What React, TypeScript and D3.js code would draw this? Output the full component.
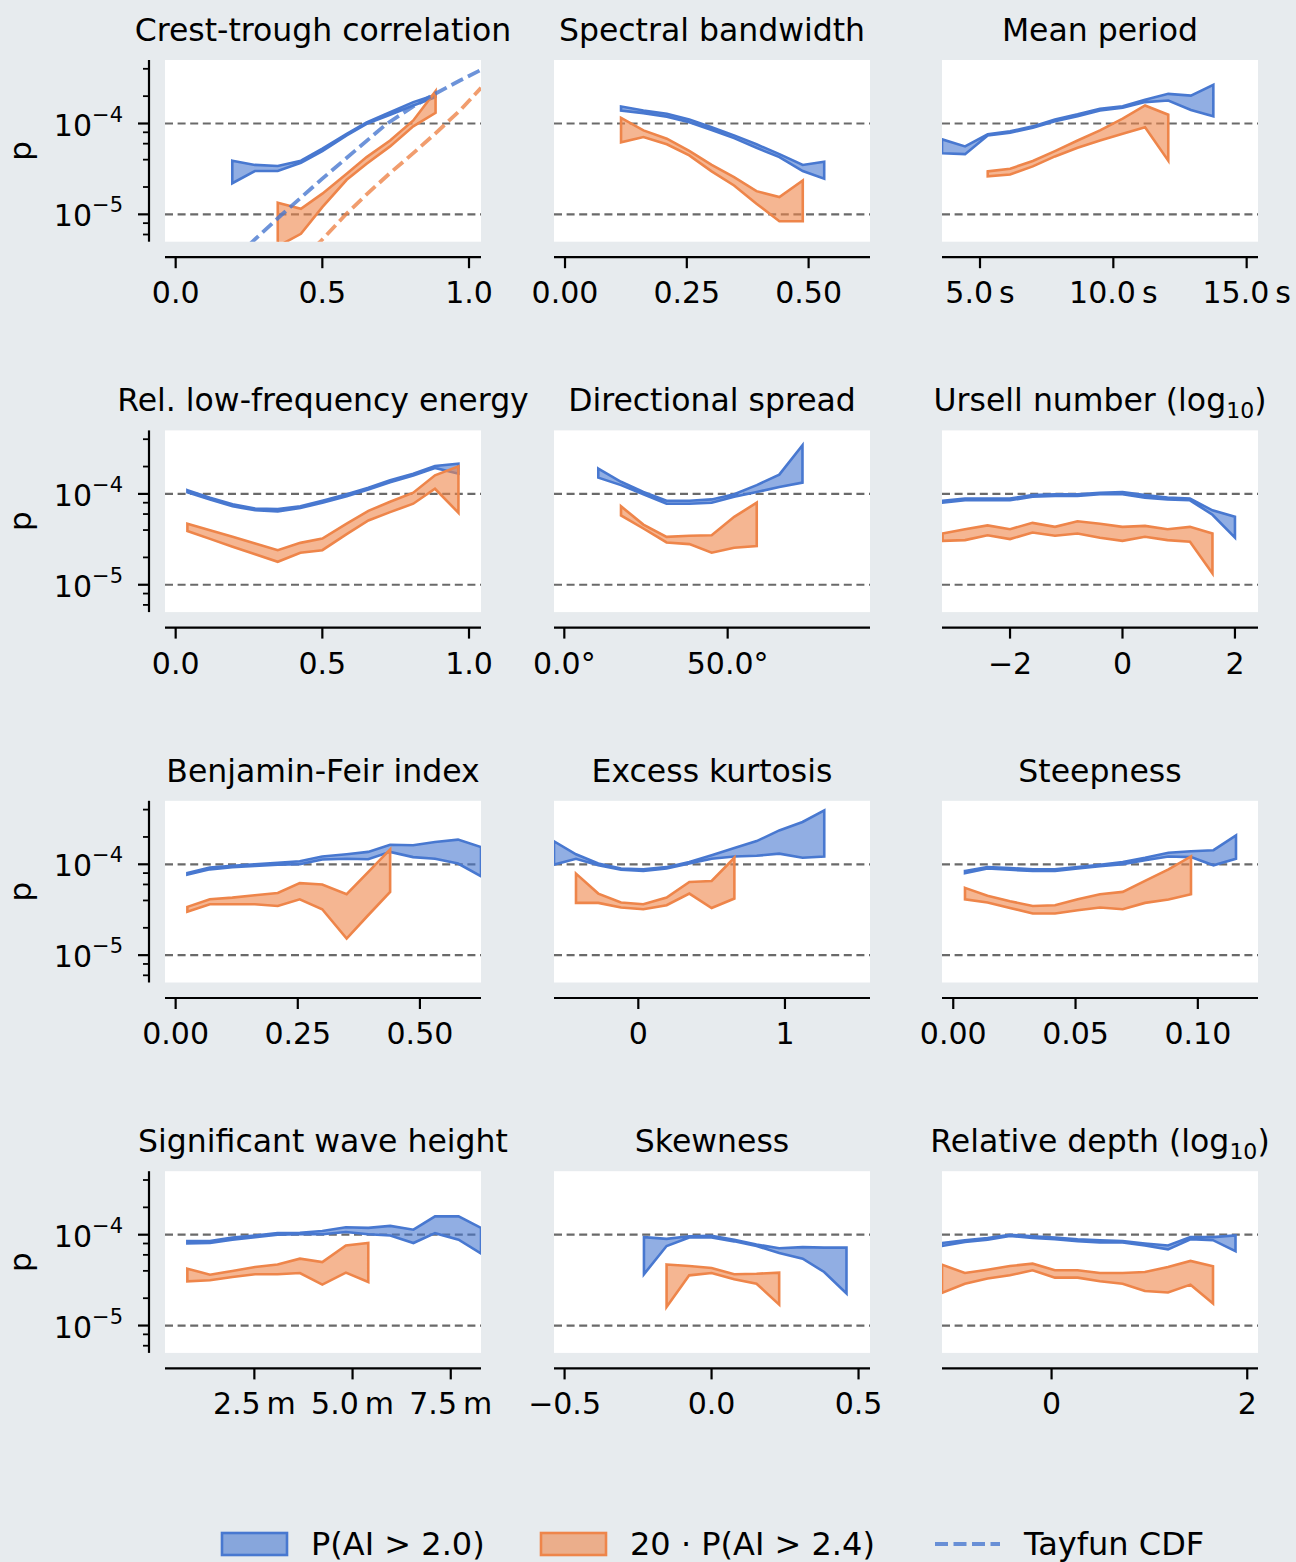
import React from 'react';
import * as d3 from 'd3';

// ---------- data (p values) ----------
// 1. Crest-trough correlation
const crestX = [0.193, 0.27, 0.348, 0.427, 0.5, 0.583, 0.651, 0.731, 0.81, 0.886];
const crestBlueHi = [3.9e-5, 3.5e-5, 3.4e-5, 3.9e-5, 5.3e-5, 7.7e-5, 1.03e-4, 1.33e-4, 1.72e-4, 2.07e-4];
const crestBlueLo = [2.2e-5, 3.0e-5, 3.0e-5, 3.7e-5, 4.97e-5, 7.4e-5, 9.9e-5, 1.25e-4, 1.58e-4, 1.95e-4];
const crestOrangeX = [0.348, 0.427, 0.5, 0.583, 0.651, 0.731, 0.81, 0.886];
const crestOrangeHi = [1.34e-5, 1.15e-5, 1.69e-5, 2.8e-5, 4.27e-5, 6.5e-5, 1.08e-4, 2.27e-4];
const crestOrangeLo = [4.45e-6, 6.1e-6, 1.2e-5, 2.4e-5, 3.6e-5, 5.6e-5, 9.3e-5, 1.31e-4];
const tayfunBlueX = [0.25, 0.27, 0.361, 0.5, 0.606, 0.719, 0.81, 0.884, 0.969, 1.041];
const tayfunBlueP = [4.6e-6, 5.3e-6, 9.9e-6, 2.47e-5, 4.84e-5, 9.9e-5, 1.54e-4, 2.12e-4, 2.97e-4, 3.89e-4];
const tayfunOrangeX = [0.47, 0.492, 0.583, 0.651, 0.731, 0.81, 0.884, 0.969, 1.041];
const tayfunOrangeP = [4.3e-6, 4.97e-6, 1.02e-5, 1.66e-5, 2.85e-5, 4.72e-5, 7.7e-5, 1.39e-4, 2.47e-4];

// 2. Spectral bandwidth
const bwX = [0.115, 0.161, 0.209, 0.255, 0.301, 0.347, 0.393, 0.44, 0.488, 0.532];
const bwBlueHi = [1.54e-4, 1.39e-4, 1.28e-4, 1.11e-4, 9.1e-5, 7.4e-5, 5.9e-5, 4.6e-5, 3.5e-5, 3.8e-5];
const bwBlueLo = [1.39e-4, 1.3e-4, 1.19e-4, 1.03e-4, 8.5e-5, 6.9e-5, 5.4e-5, 4.27e-5, 3.0e-5, 2.47e-5];
const bwOrangeX = [0.115, 0.161, 0.209, 0.255, 0.301, 0.347, 0.393, 0.44, 0.488];
const bwOrangeHi = [1.15e-4, 8.4e-5, 6.8e-5, 5.0e-5, 3.5e-5, 2.57e-5, 1.8e-5, 1.55e-5, 2.36e-5];
const bwOrangeLo = [6.2e-5, 7.1e-5, 5.9e-5, 4.45e-5, 2.97e-5, 2.08e-5, 1.31e-5, 8.4e-6, 8.4e-6];

// 3. Mean period (s)
const periodX = [3.575, 4.44, 5.29, 6.13, 6.98, 7.81, 8.66, 9.5, 10.35, 11.19, 12.06, 12.91, 13.75];
const periodBlueHi = [6.7e-5, 5.6e-5, 7.6e-5, 8.2e-5, 9.3e-5, 1.11e-4, 1.26e-4, 1.45e-4, 1.55e-4, 1.82e-4, 2.12e-4, 2.03e-4, 2.66e-4];
const periodBlueLo = [4.7e-5, 4.6e-5, 7.4e-5, 7.9e-5, 9.0e-5, 1.06e-4, 1.2e-4, 1.39e-4, 1.49e-4, 1.72e-4, 1.79e-4, 1.41e-4, 1.2e-4];
const periodOrangeX = [5.29, 6.13, 6.98, 7.81, 8.66, 9.5, 10.35, 11.19, 12.06];
const periodOrangeHi = [2.97e-5, 3.18e-5, 3.86e-5, 4.97e-5, 6.5e-5, 8.4e-5, 1.13e-4, 1.58e-4, 1.25e-4];
const periodOrangeLo = [2.62e-5, 2.75e-5, 3.37e-5, 4.34e-5, 5.4e-5, 6.5e-5, 7.7e-5, 9.1e-5, 3.9e-5];

// 4. Rel. low-frequency energy
const lfX = [0.04, 0.117, 0.194, 0.271, 0.348, 0.425, 0.5, 0.583, 0.657, 0.731, 0.81, 0.884, 0.964];
const lfBlueHi = [1.1e-4, 9.1e-5, 7.7e-5, 6.9e-5, 6.8e-5, 7.3e-5, 8.4e-5, 9.9e-5, 1.17e-4, 1.41e-4, 1.67e-4, 2.03e-4, 2.15e-4];
const lfBlueLo = [1.04e-4, 8.7e-5, 7.3e-5, 6.6e-5, 6.4e-5, 7.0e-5, 8.0e-5, 9.4e-5, 1.12e-4, 1.34e-4, 1.59e-4, 1.93e-4, 1.67e-4];
const lfOrangeHi = [4.7e-5, 3.99e-5, 3.37e-5, 2.85e-5, 2.4e-5, 2.89e-5, 3.23e-5, 4.7e-5, 6.5e-5, 8.2e-5, 1.03e-4, 1.6e-4, 2.01e-4];
const lfOrangeLo = [3.9e-5, 3.2e-5, 2.62e-5, 2.17e-5, 1.79e-5, 2.25e-5, 2.4e-5, 3.6e-5, 5.1e-5, 6.3e-5, 7.8e-5, 1.14e-4, 6.2e-5];

// 5. Directional spread (deg)
const dirX = [10.4, 17.35, 24.2, 31.3, 38.3, 45.1, 52.0, 58.9, 65.8, 72.9];
const dirBlueHi = [1.9e-4, 1.36e-4, 1.05e-4, 8.4e-5, 8.4e-5, 8.7e-5, 9.9e-5, 1.25e-4, 1.63e-4, 3.43e-4];
const dirBlueLo = [1.51e-4, 1.25e-4, 9.9e-5, 7.8e-5, 7.8e-5, 8.0e-5, 9.3e-5, 1.05e-4, 1.19e-4, 1.33e-4];
const dirOrangeX = [17.35, 24.2, 31.3, 38.3, 45.1, 52.0, 58.9];
const dirOrangeHi = [7.3e-5, 4.6e-5, 3.37e-5, 3.46e-5, 3.51e-5, 5.6e-5, 8.0e-5];
const dirOrangeLo = [5.8e-5, 4.16e-5, 2.92e-5, 2.8e-5, 2.25e-5, 2.55e-5, 2.66e-5];

// 6. Ursell number (log10)
const ursellX = [-3.2, -2.8, -2.4, -2.0, -1.6, -1.2, -0.8, -0.4, 0, 0.4, 0.8, 1.2, 1.6, 2.0];
const ursellBlueHi = [8.4e-5, 8.9e-5, 8.9e-5, 8.9e-5, 9.7e-5, 9.9e-5, 9.9e-5, 1.03e-4, 1.05e-4, 9.7e-5, 9.1e-5, 8.9e-5, 6.6e-5, 5.6e-5];
const ursellBlueLo = [8.0e-5, 8.5e-5, 8.5e-5, 8.5e-5, 9.3e-5, 9.5e-5, 9.5e-5, 9.9e-5, 9.9e-5, 9.1e-5, 8.7e-5, 8.5e-5, 5.9e-5, 3.3e-5];
const ursellOrangeX = [-3.2, -2.8, -2.4, -2.0, -1.6, -1.2, -0.8, -0.4, 0, 0.4, 0.8, 1.2, 1.6];
const ursellOrangeHi = [3.67e-5, 4.09e-5, 4.5e-5, 4.09e-5, 4.8e-5, 4.34e-5, 5.0e-5, 4.7e-5, 4.34e-5, 4.45e-5, 4.09e-5, 4.34e-5, 3.67e-5];
const ursellOrangeLo = [3.04e-5, 3.1e-5, 3.51e-5, 3.18e-5, 3.76e-5, 3.46e-5, 3.67e-5, 3.29e-5, 3.04e-5, 3.37e-5, 3.1e-5, 2.97e-5, 1.33e-5];

// 7. Benjamin-Feir index
const bfiX = [0.024, 0.07, 0.116, 0.162, 0.209, 0.254, 0.3, 0.35, 0.394, 0.439, 0.486, 0.531, 0.578, 0.625];
const bfiBlueHi = [8.0e-5, 9.2e-5, 9.6e-5, 1.0e-4, 1.04e-4, 1.08e-4, 1.22e-4, 1.29e-4, 1.37e-4, 1.64e-4, 1.62e-4, 1.76e-4, 1.87e-4, 1.55e-4];
const bfiBlueLo = [7.7e-5, 8.8e-5, 9.3e-5, 9.6e-5, 9.9e-5, 1.0e-4, 1.13e-4, 1.15e-4, 1.135e-4, 1.37e-4, 1.2e-4, 1.15e-4, 1.02e-4, 7.4e-5];
const bfiOrangeX = [0.024, 0.07, 0.116, 0.162, 0.209, 0.254, 0.3, 0.35, 0.394, 0.439];
const bfiOrangeHi = [3.4e-5, 4.12e-5, 4.3e-5, 4.56e-5, 4.84e-5, 6.2e-5, 6.0e-5, 4.68e-5, 8.2e-5, 1.46e-4];
const bfiOrangeLo = [3.0e-5, 3.63e-5, 3.63e-5, 3.63e-5, 3.48e-5, 4.12e-5, 3.2e-5, 1.52e-5, 2.75e-5, 4.97e-5];

// 8. Excess kurtosis
const kurtX = [-0.575, -0.425, -0.273, -0.118, 0.034, 0.193, 0.348, 0.5, 0.655, 0.807, 0.961, 1.12, 1.268];
const kurtBlueHi = [1.79e-4, 1.29e-4, 1.02e-4, 9.0e-5, 8.8e-5, 9.3e-5, 1.06e-4, 1.26e-4, 1.51e-4, 1.8e-4, 2.36e-4, 2.92e-4, 3.92e-4];
const kurtBlueLo = [9.9e-5, 1.15e-4, 9.75e-5, 8.7e-5, 8.45e-5, 9.0e-5, 1.02e-4, 1.15e-4, 1.22e-4, 1.24e-4, 1.31e-4, 1.18e-4, 1.22e-4];
const kurtOrangeX = [-0.425, -0.273, -0.118, 0.034, 0.193, 0.348, 0.5, 0.655];
const kurtOrangeHi = [7.9e-5, 4.76e-5, 3.79e-5, 3.63e-5, 4.3e-5, 6.4e-5, 6.56e-5, 1.18e-4];
const kurtOrangeLo = [3.76e-5, 3.76e-5, 3.34e-5, 3.2e-5, 3.54e-5, 4.76e-5, 3.3e-5, 4.2e-5];

// 9. Steepness
const steepX = [0.0048, 0.014, 0.0232, 0.0325, 0.0416, 0.0509, 0.06, 0.0693, 0.0784, 0.088, 0.0972, 0.1064, 0.1156];
const steepBlueHi = [8.45e-5, 9.35e-5, 9.1e-5, 8.8e-5, 8.8e-5, 9.35e-5, 9.9e-5, 1.06e-4, 1.18e-4, 1.34e-4, 1.39e-4, 1.43e-4, 2.08e-4];
const steepBlueLo = [8.0e-5, 9.0e-5, 8.7e-5, 8.45e-5, 8.45e-5, 9.0e-5, 9.5e-5, 1.0e-4, 1.11e-4, 1.22e-4, 1.2e-4, 9.75e-5, 1.15e-4];
const steepOrangeX = [0.0048, 0.014, 0.0232, 0.0325, 0.0416, 0.0509, 0.06, 0.0693, 0.0784, 0.088, 0.0972];
const steepOrangeHi = [5.5e-5, 4.5e-5, 3.92e-5, 3.48e-5, 3.54e-5, 4.12e-5, 4.68e-5, 4.97e-5, 6.56e-5, 8.8e-5, 1.22e-4];
const steepOrangeLo = [4.12e-5, 3.79e-5, 3.31e-5, 2.87e-5, 2.87e-5, 3.12e-5, 3.34e-5, 3.2e-5, 3.76e-5, 4.09e-5, 4.68e-5];

// 10. Significant wave height (m)
const hsX = [0.794, 1.37, 1.94, 2.52, 3.09, 3.66, 4.23, 4.83, 5.4, 5.96, 6.55, 7.1, 7.7, 8.27];
const hsBlueHi = [8.5e-5, 8.5e-5, 9.3e-5, 9.8e-5, 1.04e-4, 1.05e-4, 1.1e-4, 1.21e-4, 1.19e-4, 1.25e-4, 1.135e-4, 1.59e-4, 1.59e-4, 1.19e-4];
const hsBlueLo = [8.0e-5, 8.1e-5, 8.8e-5, 9.4e-5, 1.0e-4, 1.01e-4, 1.01e-4, 1.07e-4, 1.01e-4, 9.8e-5, 8.1e-5, 1.04e-4, 8.8e-5, 6.2e-5];
const hsOrangeX = [0.794, 1.37, 1.94, 2.52, 3.09, 3.66, 4.23, 4.83, 5.4];
const hsOrangeHi = [4.23e-5, 3.63e-5, 3.99e-5, 4.41e-5, 4.7e-5, 5.45e-5, 5.0e-5, 7.6e-5, 8.1e-5];
const hsOrangeLo = [3.07e-5, 3.15e-5, 3.43e-5, 3.67e-5, 3.67e-5, 3.79e-5, 2.82e-5, 3.82e-5, 3.02e-5];

// 11. Skewness
const skewX = [-0.23, -0.153, -0.076, 0, 0.077, 0.153, 0.23, 0.31, 0.383, 0.459];
const skewBlueHi = [9.4e-5, 9.0e-5, 9.6e-5, 9.7e-5, 8.8e-5, 7.8e-5, 7.1e-5, 7.3e-5, 7.2e-5, 7.2e-5];
const skewBlueLo = [3.67e-5, 7.5e-5, 9.3e-5, 9.3e-5, 8.45e-5, 7.5e-5, 6.3e-5, 5.45e-5, 3.89e-5, 2.25e-5];
const skewOrangeX = [-0.153, -0.076, 0, 0.077, 0.153, 0.23];
const skewOrangeHi = [4.7e-5, 4.52e-5, 4.3e-5, 3.67e-5, 3.72e-5, 3.82e-5];
const skewOrangeLo = [1.6e-5, 3.57e-5, 3.79e-5, 3.23e-5, 2.89e-5, 1.7e-5];

// 12. Relative depth (log10)
const depthX = [-1.12, -0.886, -0.654, -0.426, -0.194, 0.034, 0.266, 0.494, 0.726, 0.954, 1.19, 1.42, 1.65, 1.88];
const depthBlueHi = [8.1e-5, 8.7e-5, 9.2e-5, 1.0e-4, 9.6e-5, 9.3e-5, 8.9e-5, 8.7e-5, 8.5e-5, 8.0e-5, 7.6e-5, 9.4e-5, 9.4e-5, 9.8e-5];
const depthBlueLo = [7.5e-5, 8.3e-5, 8.8e-5, 9.7e-5, 9.2e-5, 8.9e-5, 8.5e-5, 8.2e-5, 8.2e-5, 7.6e-5, 6.9e-5, 8.9e-5, 8.7e-5, 6.6e-5];
const depthOrangeX = [-1.12, -0.886, -0.654, -0.426, -0.194, 0.034, 0.266, 0.494, 0.726, 0.954, 1.19, 1.42, 1.65];
const depthOrangeHi = [4.68e-5, 3.79e-5, 4.12e-5, 4.52e-5, 4.8e-5, 4.06e-5, 4.06e-5, 3.79e-5, 3.79e-5, 3.89e-5, 4.41e-5, 5.14e-5, 4.5e-5];
const depthOrangeLo = [2.29e-5, 2.89e-5, 3.29e-5, 3.57e-5, 4.06e-5, 3.37e-5, 3.37e-5, 3.07e-5, 2.89e-5, 2.4e-5, 2.31e-5, 2.82e-5, 1.75e-5];

const yMajorTicks = [1e-5, 1e-4];
const yMinorTicks = [6e-6, 8e-6, 2e-5, 4e-5, 6e-5, 8e-5, 2e-4, 4e-4];
const refLines = [1e-5, 1e-4];
const legendLabels = ['P(AI > 2.0)', '20 \u00b7 P(AI > 2.4)', 'Tayfun CDF'];

// ---------- styling / layout ----------
const BLUE = '#4878d0';
const ORANGE = '#ee854a';
const BG = '#e7ebee';
const FONT = "'DejaVu Sans', sans-serif";
const COLS = [165, 554, 942];
const PW = 316;
const PH = 181.7;
const ROW0 = 60;
const ROWSTEP = 370.4;
const BAND_W = 2.6;
const DASH = '13,5.5';

const minus = (s: string) => s.replace('-', '\u2212');
const f1 = (v: number) => minus(v.toFixed(1));
const f2 = (v: number) => minus(v.toFixed(2));
const f0 = (v: number) => minus(v.toFixed(0));

type Band = { x: number[]; hi: number[]; lo: number[] };
type PanelDef = {
  title: string;
  sub?: string;
  tail?: string;
  domain: [number, number];
  ticks: number[];
  fmt: (v: number) => string;
  blue: Band;
  orange: Band;
  tayfun?: { x: number[]; p: number[] }[];
};

const panels: PanelDef[] = [
  { title: 'Crest-trough correlation', domain: [-0.0364, 1.0409], ticks: [0, 0.5, 1], fmt: f1,
    blue: { x: crestX, hi: crestBlueHi, lo: crestBlueLo },
    orange: { x: crestOrangeX, hi: crestOrangeHi, lo: crestOrangeLo },
    tayfun: [{ x: tayfunBlueX, p: tayfunBlueP }, { x: tayfunOrangeX, p: tayfunOrangeP }] },
  { title: 'Spectral bandwidth', domain: [-0.0226, 0.626], ticks: [0, 0.25, 0.5], fmt: f2,
    blue: { x: bwX, hi: bwBlueHi, lo: bwBlueLo },
    orange: { x: bwOrangeX, hi: bwOrangeHi, lo: bwOrangeLo } },
  { title: 'Mean period', domain: [3.575, 15.425], ticks: [5, 10, 15], fmt: (v) => `${v.toFixed(1)}\u2009s`,
    blue: { x: periodX, hi: periodBlueHi, lo: periodBlueLo },
    orange: { x: periodOrangeX, hi: periodOrangeHi, lo: periodOrangeLo } },
  { title: 'Rel. low-frequency energy', domain: [-0.0364, 1.0409], ticks: [0, 0.5, 1], fmt: f1,
    blue: { x: lfX, hi: lfBlueHi, lo: lfBlueLo },
    orange: { x: lfX, hi: lfOrangeHi, lo: lfOrangeLo } },
  { title: 'Directional spread', domain: [-3.16, 93.57], ticks: [0, 50], fmt: (v) => `${v.toFixed(1)}\u00b0`,
    blue: { x: dirX, hi: dirBlueHi, lo: dirBlueLo },
    orange: { x: dirOrangeX, hi: dirOrangeHi, lo: dirOrangeLo } },
  { title: 'Ursell number (log', sub: '10', tail: ')', domain: [-3.21, 2.41], ticks: [-2, 0, 2], fmt: f0,
    blue: { x: ursellX, hi: ursellBlueHi, lo: ursellBlueLo },
    orange: { x: ursellOrangeX, hi: ursellOrangeHi, lo: ursellOrangeLo } },
  { title: 'Benjamin-Feir index', domain: [-0.0218, 0.625], ticks: [0, 0.25, 0.5], fmt: f2,
    blue: { x: bfiX, hi: bfiBlueHi, lo: bfiBlueLo },
    orange: { x: bfiOrangeX, hi: bfiOrangeHi, lo: bfiOrangeLo } },
  { title: 'Excess kurtosis', domain: [-0.575, 1.58], ticks: [0, 1], fmt: f0,
    blue: { x: kurtX, hi: kurtBlueHi, lo: kurtBlueLo },
    orange: { x: kurtOrangeX, hi: kurtOrangeHi, lo: kurtOrangeLo } },
  { title: 'Steepness', domain: [-0.0046, 0.1246], ticks: [0, 0.05, 0.1], fmt: f2,
    blue: { x: steepX, hi: steepBlueHi, lo: steepBlueLo },
    orange: { x: steepOrangeX, hi: steepOrangeHi, lo: steepOrangeLo } },
  { title: 'Significant wave height', domain: [0.225, 8.27], ticks: [2.5, 5, 7.5], fmt: (v) => `${v.toFixed(1)}\u2009m`,
    blue: { x: hsX, hi: hsBlueHi, lo: hsBlueLo },
    orange: { x: hsOrangeX, hi: hsOrangeHi, lo: hsOrangeLo } },
  { title: 'Skewness', domain: [-0.536, 0.539], ticks: [-0.5, 0, 0.5], fmt: f1,
    blue: { x: skewX, hi: skewBlueHi, lo: skewBlueLo },
    orange: { x: skewOrangeX, hi: skewOrangeHi, lo: skewOrangeLo } },
  { title: 'Relative depth (log', sub: '10', tail: ')', domain: [-1.12, 2.11], ticks: [0, 2], fmt: f0,
    blue: { x: depthX, hi: depthBlueHi, lo: depthBlueLo },
    orange: { x: depthOrangeX, hi: depthOrangeHi, lo: depthOrangeLo } },
];

function Panel({ def, index }: { def: PanelDef; index: number }) {
  const col = index % 3;
  const row = Math.floor(index / 3);
  const left = COLS[col];
  const top = ROW0 + row * ROWSTEP;
  const bottom = top + PH;
  const x = d3.scaleLinear().domain(def.domain).range([left, left + PW]);
  const y = d3.scaleLog().domain([5e-6, 5e-4]).range([bottom, top]);
  const clipId = `clip-${index}`;

  const bandPath = (b: Band) => {
    const pts = b.x.map((xv, i) => ({ x: xv, hi: b.hi[i], lo: b.lo[i] }));
    return d3.area<{ x: number; hi: number; lo: number }>()
      .x((d) => x(d.x))
      .y0((d) => y(d.lo))
      .y1((d) => y(d.hi))(pts) || '';
  };
  const linePath = (t: { x: number[]; p: number[] }) =>
    d3.line<number>().x((_, i) => x(t.x[i])).y((d) => y(d))(t.p) || '';

  const spineY = bottom + 15.5;
  const spineX = left - 16;
  const cx = left + PW / 2;

  return (
    <g>
      <defs>
        <clipPath id={clipId}>
          <rect x={left} y={top} width={PW} height={PH} />
        </clipPath>
      </defs>
      <rect x={left} y={top} width={PW} height={PH} fill="#ffffff" />
      {refLines.map((v) => (
        <line key={v} x1={left} x2={left + PW} y1={y(v)} y2={y(v)} stroke="#6a6a6a" strokeWidth={2.2} strokeDasharray="8,4.6" />
      ))}
      <g clipPath={`url(#${clipId})`}>
        <path d={bandPath(def.blue)} fill={BLUE} fillOpacity={0.6} stroke={BLUE} strokeWidth={BAND_W} />
        <path d={bandPath(def.orange)} fill={ORANGE} fillOpacity={0.6} stroke={ORANGE} strokeWidth={BAND_W} />
        {def.tayfun &&
          def.tayfun.map((t, i) => (
            <path key={i} d={linePath(t)} fill="none" stroke={i === 0 ? BLUE : ORANGE} strokeOpacity={0.8}
              strokeWidth={3.8} strokeDasharray={DASH} />
          ))}
      </g>
      {/* bottom axis */}
      <line x1={left} x2={left + PW} y1={spineY} y2={spineY} stroke="#000" strokeWidth={2.2} />
      {def.ticks.map((t) => (
        <g key={t}>
          <line x1={x(t)} x2={x(t)} y1={spineY} y2={spineY + 11} stroke="#000" strokeWidth={2.2} />
          <text x={x(t)} y={spineY + 46} textAnchor="middle" fontSize={30} fontFamily={FONT} fill="#000">
            {def.fmt(t)}
          </text>
        </g>
      ))}
      {/* left axis (first column) */}
      {col === 0 && (
        <g>
          <line x1={spineX} x2={spineX} y1={top} y2={bottom} stroke="#000" strokeWidth={2.2} />
          {yMinorTicks.map((t) => (
            <line key={t} x1={spineX - 6} x2={spineX} y1={y(t)} y2={y(t)} stroke="#000" strokeWidth={1.8} />
          ))}
          {yMajorTicks.map((t) => (
            <g key={t}>
              <line x1={spineX - 11} x2={spineX} y1={y(t)} y2={y(t)} stroke="#000" strokeWidth={2.2} />
              <text x={spineX - 26} y={y(t) + 12} textAnchor="end" fontSize={30} fontFamily={FONT} fill="#000">
                10
                <tspan dy={-14} fontSize={21}>{'\u2212' + String(-Math.round(Math.log10(t)))}</tspan>
              </text>
            </g>
          ))}
          <text x={31} y={top + PH / 2} transform={`rotate(-90, 31, ${top + PH / 2})`} textAnchor="middle"
            fontSize={31} fontFamily={FONT} fill="#000">p</text>
        </g>
      )}
      {/* title */}
      <text x={cx} y={top - 19} textAnchor="middle" fontSize={31.5} fontFamily={FONT} fill="#000">
        {def.title}
        {def.sub && <tspan dy={7} fontSize={22}>{def.sub}</tspan>}
        {def.tail && <tspan dy={-7}>{def.tail}</tspan>}
      </text>
    </g>
  );
}

function Legend() {
  const yc = 1544;
  const items = [
    { x: 222, kind: 'patch', color: BLUE, label: legendLabels[0] },
    { x: 541, kind: 'patch', color: ORANGE, label: legendLabels[1] },
    { x: 935, kind: 'line', color: BLUE, label: legendLabels[2] },
  ];
  return (
    <g>
      {items.map((it) => (
        <g key={it.label}>
          {it.kind === 'patch' ? (
            <rect x={it.x} y={yc - 11} width={65} height={22} fill={it.color} fillOpacity={0.6} stroke={it.color} strokeWidth={BAND_W} />
          ) : (
            <line x1={it.x} x2={it.x + 65} y1={yc} y2={yc} stroke={it.color} strokeOpacity={0.8} strokeWidth={3.8} strokeDasharray={DASH} />
          )}
          <text x={it.x + 89} y={yc + 11} fontSize={32} fontFamily={FONT} fill="#000">{it.label}</text>
        </g>
      ))}
    </g>
  );
}

export default function App() {
  return (
    <svg width={1296} height={1562} style={{ position: 'absolute', left: 0, top: 0, display: 'block' }}
      xmlns="http://www.w3.org/2000/svg">
      <rect x={0} y={0} width={1296} height={1562} fill={BG} />
      {panels.map((p, i) => (
        <Panel key={i} def={p} index={i} />
      ))}
      <Legend />
    </svg>
  );
}
